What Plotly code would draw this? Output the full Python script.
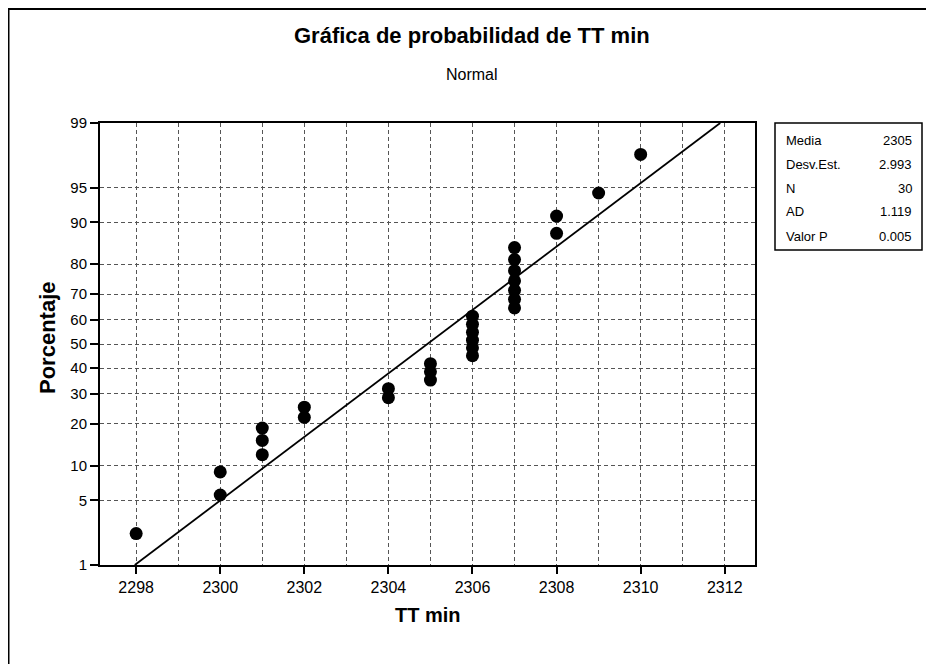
import plotly.graph_objects as go
from statistics import NormalDist

# ---- data ----
tt_min = [2298, 2300, 2300, 2301, 2301, 2301, 2302, 2302, 2304, 2304,
          2305, 2305, 2305, 2306, 2306, 2306, 2306, 2306, 2306,
          2307, 2307, 2307, 2307, 2307, 2307, 2307, 2308, 2308, 2309, 2310]
percent = [2.3, 5.6, 8.9, 12.2, 15.5, 18.8, 22.0, 25.3, 28.6, 31.9,
           35.2, 38.5, 41.8, 45.1, 48.4, 51.6, 54.9, 58.2, 61.5,
           64.8, 68.1, 71.4, 74.7, 78.0, 81.3, 84.5, 87.8, 91.1, 94.4, 97.7]
y_ticks = [1, 5, 10, 20, 30, 40, 50, 60, 70, 80, 90, 95, 99]
x_ticks = [2298, 2300, 2302, 2304, 2306, 2308, 2310, 2312]
fit_mean = 2304.93
fit_sd = 2.993
fit_pct = [1, 99]
stat_names = ["Media", "Desv.Est.", "N", "AD", "Valor P"]
stat_vals = ["2305", "2.993", "30", "1.119", "0.005"]

nd = NormalDist()
def probit(p):
    return nd.inv_cdf(p / 100.0)

FONT = "Liberation Sans"
OX, OY = 8, 8  # page body margin
W, H = 934 - OX, 664 - OY
SL, SR, ST, SB = 100, 755, 123, 565          # plot area in page pixels
L, R, T, B = SL - OX, SR - OX, ST - OY, SB - OY

def px(x):
    return (x - SL) / (SR - SL)
def py(y):
    return (SB - y) / (SB - ST)

fig = go.Figure()
fit_x = [fit_mean + fit_sd * probit(p) for p in fit_pct]
fig.add_trace(go.Scatter(x=fit_x, y=[probit(p) for p in fit_pct], mode="lines",
                         line=dict(color="black", width=1.8), hoverinfo="skip",
                         showlegend=False))
fig.add_trace(go.Scatter(x=tt_min, y=[probit(p) for p in percent], mode="markers",
                         marker=dict(color="black", size=13), showlegend=False))

shapes = [
    dict(type="rect", xref="paper", yref="paper", x0=px(8.5), x1=px(980), y0=py(9), y1=py(720),
         line=dict(color="black", width=2), fillcolor="rgba(0,0,0,0)", layer="below"),
    dict(type="rect", xref="paper", yref="paper", x0=px(775), x1=px(922), y0=py(123), y1=py(250),
         line=dict(color="black", width=1.5), fillcolor="white"),
]
annotations = [
    dict(text="<b>Gráfica de probabilidad de TT min</b>", xref="paper", yref="paper",
         x=px(472), y=py(35), showarrow=False, font=dict(size=22, family=FONT, color="black"),
         xanchor="center", yanchor="middle"),
    dict(text="Normal", xref="paper", yref="paper", x=px(472), y=py(75), showarrow=False,
         font=dict(size=16, family=FONT, color="black"), xanchor="center", yanchor="middle"),
    dict(text="<b>TT min</b>", xref="paper", yref="paper", x=px(428), y=py(615), showarrow=False,
         font=dict(size=20, family=FONT, color="black"), xanchor="center", yanchor="middle"),
    dict(text="<b>Porcentaje</b>", xref="paper", yref="paper", x=px(47), y=py(338), showarrow=False,
         textangle=-90, font=dict(size=22, family=FONT, color="black"),
         xanchor="center", yanchor="middle"),
]
for i, (n, v) in enumerate(zip(stat_names, stat_vals)):
    yy = 140 + 24 * i
    annotations.append(dict(text=n, xref="paper", yref="paper", x=px(784), y=py(yy),
                            showarrow=False, xanchor="left", yanchor="middle",
                            font=dict(size=13, family=FONT, color="black")))
    annotations.append(dict(text=v, xref="paper", yref="paper", x=px(914), y=py(yy),
                            showarrow=False, xanchor="right", yanchor="middle",
                            font=dict(size=13, family=FONT, color="black")))

grid_color = "#555555"
grid_dash = "4px,3px"
fig.update_layout(
    width=W, height=H,
    margin=dict(l=L, r=W - R, t=T, b=H - B),
    plot_bgcolor="white", paper_bgcolor="white",
    shapes=shapes, annotations=annotations,
    xaxis=dict(range=[2297.14, 2312.72], tickvals=x_ticks, ticks="outside", ticklen=7,
               tickcolor="black", tickwidth=1.5, showline=True, mirror=True, linecolor="black",
               linewidth=2, showgrid=True, gridcolor=grid_color, griddash=grid_dash, gridwidth=1,
               minor=dict(dtick=1, tick0=2297, showgrid=True, gridcolor=grid_color,
                          griddash=grid_dash, gridwidth=1),
               zeroline=False,
               tickfont=dict(size=16, family=FONT, color="black")),
    yaxis=dict(range=[probit(1), probit(99)], tickvals=[probit(p) for p in y_ticks],
               ticktext=[str(p) for p in y_ticks], ticks="outside", ticklen=8,
               tickcolor="black", tickwidth=1.5, showline=True, mirror=True, linecolor="black",
               linewidth=2, showgrid=True, gridcolor=grid_color, griddash=grid_dash, gridwidth=1,
               zeroline=False,
               tickfont=dict(size=15, family=FONT, color="black")),
)
fig.write_html("out.html")
